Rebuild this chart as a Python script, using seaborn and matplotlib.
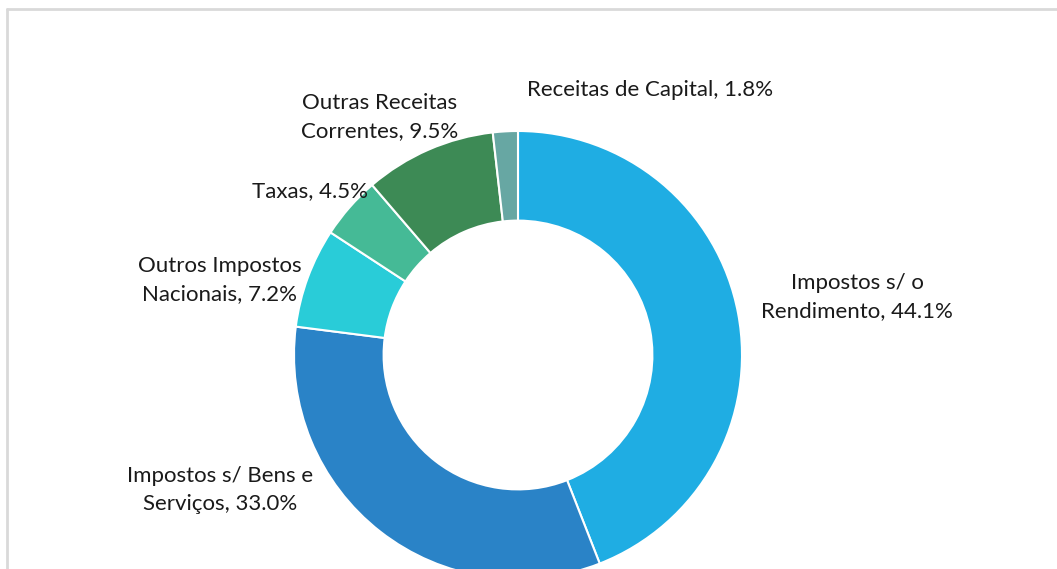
import matplotlib
matplotlib.use("Agg")
import matplotlib.pyplot as plt
import seaborn as sns
import numpy as np

categories = ["Impostos s/ o\nRendimento", "Impostos s/ Bens e\nServiços",
              "Outros Impostos\nNacionais", "Taxas",
              "Outras Receitas\nCorrentes", "Receitas de Capital"]
shares = [44.1, 33.0, 7.2, 4.5, 9.5, 1.8]
colors = ["#1FADE3", "#2A83C7", "#29CCD8", "#45BA96", "#3D8A55", "#67A7A3"]

sns.set_theme(style="white")
plt.rcParams['font.family'] = ['Lato', 'DejaVu Sans']

W, H = 1057, 569
fig = plt.figure(figsize=(W / 100, H / 100), dpi=100)
ax = fig.add_axes([0, 0, 1, 1])

ax.pie(shares, colors=colors, startangle=90, counterclock=False, radius=1,
       wedgeprops=dict(width=0.4, edgecolor="white", linewidth=1.5))

# pixel geometry of the donut (pie() resets limits, so set them afterwards)
cx, cy, r = 518, 355, 224
ax.set_xlim(-cx / r, (W - cx) / r)
ax.set_ylim(-(H - cy) / r, cy / r)
ax.set_aspect("equal")
ax.axis("off")

# label positions (pixel centres), excel-style placement
label_px = [(857, 297), (220, 490), (220, 280), (310, 191), (380, 117), (650, 90)]
for name, val, (px, py) in zip(categories, shares, label_px):
    ax.text((px - cx) / r, (cy - py) / r, f"{name}, {val:.1f}%", ha="center", va="center",
            fontsize=16, color="#1a1a1a", linespacing=1.45)

# light grey frame of the chart area
fig.add_artist(plt.Line2D([7 / W, 1], [1 - 9 / H, 1 - 9 / H], transform=fig.transFigure, color="#d9d9d9", lw=2))
fig.add_artist(plt.Line2D([7 / W, 7 / W], [0, 1 - 9 / H], transform=fig.transFigure, color="#d9d9d9", lw=2))

fig.savefig("out.png", dpi=100)
